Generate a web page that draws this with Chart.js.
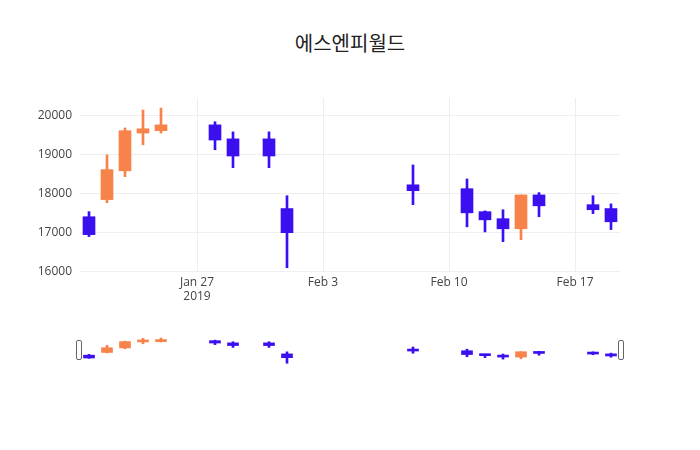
<!DOCTYPE html>
<html>
<head>
<meta charset="utf-8">
<script src="https://cdn.jsdelivr.net/npm/chart.js@4"></script>
<style>
body { margin: 0; background: #fff; }
#wrap { position: relative; width: 700px; height: 450px; }
#title { position: absolute; top: 28px; width: 700px; text-align: center; font: 20px "Noto Sans CJK KR", sans-serif; color: #222; }
#main { position: absolute; left: 0; top: 0; }
#mini { position: absolute; left: 0; top: 330px; }
</style>
</head>
<body>
<div id="wrap">
<div id="title">에스엔피월드</div>
<canvas id="main" width="700" height="322"></canvas>
<canvas id="mini" width="700" height="40"></canvas>
</div>
<script>
// days counted from Jan 21, 2019
const days  = [0, 1, 2, 3, 4, 7, 8, 10, 11, 18, 21, 22, 23, 24, 25, 28, 29];
const opens = [17410, 17850, 18590, 19560, 19620, 19770, 19410, 19410, 17620, 18230, 18130, 17540, 17360, 17100, 17970, 17720, 17620];
const highs = [17540, 19000, 19690, 20150, 20200, 19850, 19590, 19590, 17950, 18740, 18380, 17560, 17590, 17970, 18030, 17950, 17740];
const lows  = [16900, 17770, 18440, 19260, 19560, 19130, 18670, 18670, 16100, 17720, 17150, 17020, 16770, 16820, 17410, 17490, 17080];
const closes = [16950, 18620, 19620, 19670, 19770, 19380, 18970, 18970, 17000, 18080, 17510, 17330, 17100, 17970, 17690, 17590, 17280];
const tickDays = [6, 13, 20, 27];
const tickLabels = [["Jan 27", "2019"], "Feb 3", "Feb 10", "Feb 17"];

const UP = "#f7834a", DOWN = "#3c0ff0";
const colors = days.map((d, i) => closes[i] >= opens[i] ? UP : DOWN);

const makeSets = (bodyW) => [
    {
        data: days.map((d, i) => ({ x: d, y: [lows[i], highs[i]] })),
        backgroundColor: colors, barThickness: 2, grouped: false
    },
    {
        data: days.map((d, i) => ({ x: d, y: [opens[i], closes[i]] })),
        backgroundColor: colors, barThickness: bodyW, grouped: false, minBarLength: 2
    }
];

const font = { family: "'Open Sans', sans-serif", size: 12 };

new Chart(document.getElementById("main"), {
    type: "bar",
    data: { datasets: makeSets(12) },
    options: {
        responsive: false, animation: false,
        layout: { padding: { top: 98, right: 80, left: 0, bottom: 0 } },
        plugins: { legend: { display: false }, tooltip: { enabled: false } },
        scales: {
            x: {
                type: "linear", min: -0.5, max: 29.5, offset: false,
                afterBuildTicks: s => { s.ticks = tickDays.map(v => ({ value: v })); },
                afterFit: s => { s.height = 50; },
                ticks: {
                    font, color: "#444", maxRotation: 0, autoSkip: false,
                    callback: v => tickLabels[tickDays.indexOf(v)]
                },
                grid: { color: "#eee", drawTicks: false, offset: false },
                border: { display: false }
            },
            y: {
                min: 15990, max: 20460,
                afterBuildTicks: s => { s.ticks = [16000, 17000, 18000, 19000, 20000].map(v => ({ value: v })); },
                afterFit: s => { s.width = 80; },
                ticks: { font, color: "#444", padding: 8, callback: v => String(v) },
                grid: { color: "#eee", drawTicks: false },
                border: { display: false }
            }
        }
    }
});

const handles = {
    id: "handles",
    afterDraw(c) {
        const ctx = c.ctx, a = c.chartArea;
        ctx.save();
        ctx.fillStyle = "#fff";
        ctx.strokeStyle = "#666";
        ctx.lineWidth = 1;
        [a.left - 1, a.right + 1].forEach(x => {
            ctx.beginPath();
            ctx.roundRect(x - 2.5, 10.5, 5, 19, 1.5);
            ctx.fill();
            ctx.stroke();
        });
        ctx.restore();
    }
};

new Chart(document.getElementById("mini"), {
    type: "bar",
    data: { datasets: makeSets(11) },
    plugins: [handles],
    options: {
        responsive: false, animation: false,
        layout: { padding: { top: 0, right: 80, left: 80, bottom: 0 } },
        plugins: { legend: { display: false }, tooltip: { enabled: false } },
        scales: {
            x: { type: "linear", min: -0.5, max: 29.5, offset: false, display: false },
            y: { min: 15000, max: 21500, display: false }
        }
    }
});
</script>
</body>
</html>
